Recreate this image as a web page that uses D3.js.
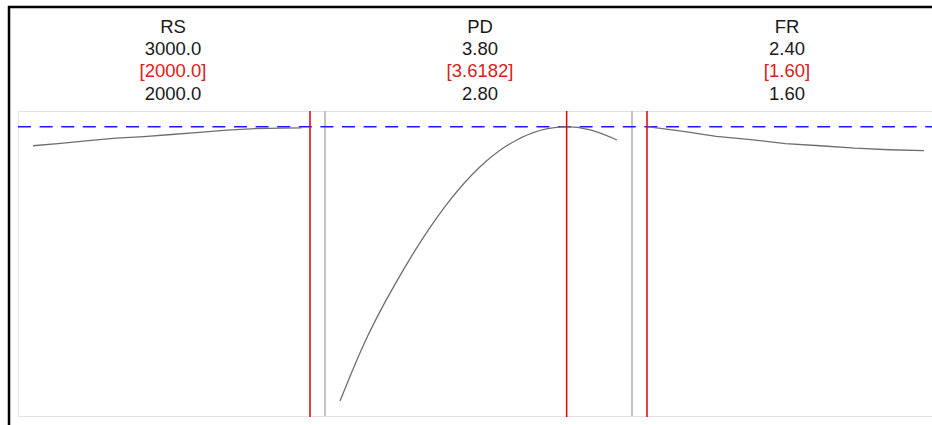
<!DOCTYPE html>
<html lang="en">
<head>
<meta charset="utf-8">
<title>Optimization plot</title>
<style>
  body { margin: 0; background: #fff; }
  svg { display: block; font-family: "Liberation Sans", Arial, sans-serif; }
</style>
</head>
<body>
<svg width="932" height="425"></svg>

<script src="https://cdn.jsdelivr.net/npm/d3@7"></script>
<script>
// Factor names and settings (high / current / low)
var factors = ["RS", "PD", "FR"];
var highs = ["3000.0", "3.80", "2.40"];
var currents = ["[2000.0]", "[3.6182]", "[1.60]"];
var lows = ["2000.0", "2.80", "1.60"];
var currentValues = [2000, 3.6182, 1.60];
// RS axis runs from 3000 on the left to 2000 on the right in the picture
var xDomains = [[3000, 2000], [2.8, 3.8], [1.6, 2.4]];

// response at the current setting (dashed line)
var currentResponse = 0.9485;

// response curves
var rsX = [3000, 2900, 2800, 2700, 2600, 2500, 2400, 2300, 2200, 2100, 2030];
var rsY = [0.886, 0.894, 0.903, 0.911, 0.916, 0.923, 0.930, 0.937, 0.942, 0.944, 0.945];
var pdX = [2.80, 2.85, 2.90, 2.95, 3.00, 3.10, 3.20, 3.30, 3.40, 3.50, 3.60, 3.6182, 3.70, 3.80];
var pdY = [0.049, 0.160, 0.262, 0.352, 0.434, 0.584, 0.711, 0.812, 0.885, 0.930, 0.948, 0.9485, 0.939, 0.905];
var frX = [1.6, 1.7, 1.8, 1.9, 2.0, 2.1, 2.2, 2.3, 2.4];
var frY = [0.9485, 0.934, 0.917, 0.906, 0.893, 0.886, 0.878, 0.873, 0.870];

var curvesX = [rsX, pdX, frX];
var curvesY = [rsY, pdY, frY];

var svg = d3.select("svg");
var plotLeft = 18, plotTop = 111, plotHeight = 305;
var panelW = 307, pad = 15;

var y = d3.scaleLinear().domain([0, 1]).range([plotTop + plotHeight, plotTop]);

// outer frame (clipped by the window on the right and bottom)
svg.append("rect")
    .attr("x", 9).attr("y", 7)
    .attr("width", 1000).attr("height", 500)
    .attr("fill", "none").attr("stroke", "#000").attr("stroke-width", 2.5);

// plot area
svg.append("rect")
    .attr("x", plotLeft + 0.5).attr("y", plotTop + 0.5)
    .attr("width", panelW * 3).attr("height", plotHeight)
    .attr("fill", "#fff").attr("stroke", "#e2e2e2").attr("stroke-width", 1);

// panel separators
for (var i = 1; i < factors.length; i++) {
    var sx = plotLeft + i * panelW;
    svg.append("line")
        .attr("x1", sx).attr("x2", sx)
        .attr("y1", plotTop).attr("y2", plotTop + plotHeight)
        .attr("stroke", "#b4b4b4").attr("stroke-width", 1.6);
}

// dashed line at the current response
svg.append("line")
    .attr("x1", plotLeft).attr("x2", plotLeft + panelW * 3)
    .attr("y1", y(currentResponse)).attr("y2", y(currentResponse))
    .attr("stroke", "#1a1aff").attr("stroke-width", 1.4)
    .attr("stroke-dasharray", "13,8.6");

factors.forEach(function(name, i) {
    var left = plotLeft + i * panelW;
    var x = d3.scaleLinear().domain(xDomains[i]).range([left + pad, left + panelW - pad]);
    var cx = left + panelW / 2 + 1.5;

    // header texts
    var lines = [highs[i], currents[i], lows[i]];
    svg.append("text").attr("x", cx).attr("y", 32.5)
        .attr("text-anchor", "middle").attr("font-size", "18.5px").attr("fill", "#1a1a1a")
        .text(name);
    lines.forEach(function(t, k) {
        svg.append("text").attr("x", cx).attr("y", 55 + k * 22.3)
            .attr("text-anchor", "middle").attr("font-size", "18.5px")
            .attr("fill", k == 1 ? "#dc2020" : "#1a1a1a")
            .text(t);
    });

    // response curve
    var pts = curvesX[i].map(function(v, k) { return [v, curvesY[i][k]]; });
    var line = d3.line()
        .x(function(d) { return x(d[0]); })
        .y(function(d) { return y(d[1]); })
        .curve(i == 1 ? d3.curveMonotoneX : d3.curveLinear);
    svg.append("path").datum(pts)
        .attr("d", line)
        .attr("fill", "none").attr("stroke", "#6e6e6e").attr("stroke-width", 1.3);

    // current setting
    svg.append("line")
        .attr("x1", x(currentValues[i])).attr("x2", x(currentValues[i]))
        .attr("y1", plotTop).attr("y2", plotTop + plotHeight + 1)
        .attr("stroke", "#e00000").attr("stroke-width", 1.5);
});
</script>
</body>
</html>
